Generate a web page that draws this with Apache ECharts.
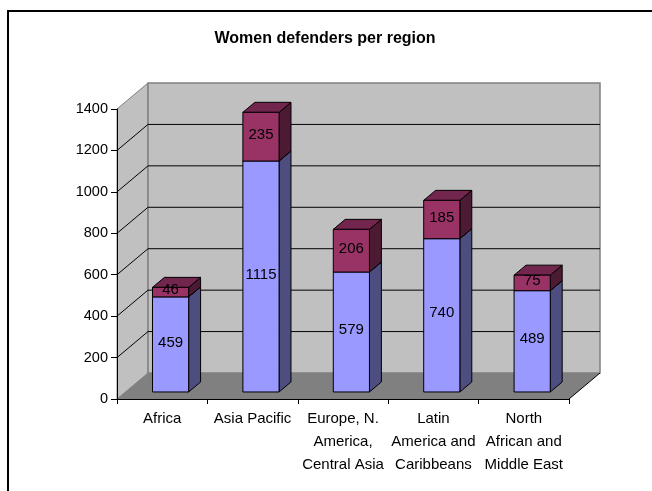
<!DOCTYPE html>
<html>
<head>
<meta charset="utf-8">
<title>Women defenders per region</title>
<script src="https://cdn.jsdelivr.net/npm/echarts@6/dist/echarts.min.js"></script>
<style>
  html, body { margin: 0; padding: 0; background: #ffffff; }
  #chart { width: 652px; height: 491px; }
</style>
</head>
<body>
<div id="chart"></div>
<script>
// Regions on the category axis
const categories = [
  'Africa',
  'Asia Pacific',
  'Europe, N.\nAmerica,\nCentral Asia',
  'Latin\nAmerica and\nCaribbeans',
  'North\nAfrican and\nMiddle East'
];

// Stacked series: lower block and the block on top of it
const lowerValues = [459, 1115, 579, 740, 489];
const upperValues = [46, 235, 206, 185, 75];

// Value axis
const yMin = 0;
const yMax = 1400;
const yStep = 200;

const FONT = 'Arial, "Liberation Sans", sans-serif';

// Pseudo-3D geometry: offset of the back wall from the front plane (px),
// bar placement inside that depth and bar width as a fraction of a band.
const DEPTH = [31, -26];
const BAR_FRONT = 0.27;
const BAR_DEPTH = 0.385;
const BAR_WIDTH = 0.4;

const palette = {
  lower: { front: '#9999ff', side: '#4d4d80', top: '#7373bf' },
  upper: { front: '#993366', side: '#4d1a33', top: '#73264d' }
};

function renderWalls(params, api) {
  const band = api.size([1, 0])[0];
  const x0 = api.coord([0, yMin])[0] - band / 2;
  const x1 = api.coord([categories.length - 1, yMin])[0] + band / 2;
  const yb = api.coord([0, yMin])[1];
  const yt = api.coord([0, yMax])[1];
  const dx = DEPTH[0], dy = DEPTH[1];
  const children = [];
  // side wall on the left
  children.push({
    type: 'polygon',
    shape: { points: [[x0, yb], [x0, yt], [x0 + dx, yt + dy], [x0 + dx, yb + dy]] },
    style: { fill: '#c0c0c0', stroke: '#808080', lineWidth: 1 }
  });
  // back wall
  children.push({
    type: 'polygon',
    shape: { points: [[x0 + dx, yt + dy], [x1 + dx, yt + dy], [x1 + dx, yb + dy], [x0 + dx, yb + dy]] },
    style: { fill: '#c0c0c0', stroke: '#808080', lineWidth: 1.5 }
  });
  // gridlines across both walls
  for (let v = yMin + yStep; v < yMax; v += yStep) {
    const y = api.coord([0, v])[1];
    children.push({
      type: 'polyline',
      shape: { points: [[x0, y], [x0 + dx, y + dy], [x1 + dx, y + dy]] },
      style: { stroke: '#000000', lineWidth: 1, fill: null }
    });
  }
  // floor
  children.push({
    type: 'polygon',
    shape: { points: [[x0, yb], [x1, yb], [x1 + dx, yb + dy], [x0 + dx, yb + dy]] },
    style: { fill: '#808080' }
  });
  children.push({
    type: 'line',
    shape: { x1: x1, y1: yb, x2: x1 + dx, y2: yb + dy },
    style: { stroke: '#000000', lineWidth: 1 }
  });
  return { type: 'group', children: children };
}

function makeBarRenderer(colors) {
  return function (params, api) {
    const i = api.value(0);
    const base = api.value(1);
    const val = api.value(2);
    const band = api.size([1, 0])[0];
    const w = band * BAR_WIDTH;
    const pb = api.coord([i, base]);
    const pt = api.coord([i, base + val]);
    const fx = pb[0] + DEPTH[0] * BAR_FRONT - w / 2;
    const fyb = pb[1] + DEPTH[1] * BAR_FRONT;
    const fyt = pt[1] + DEPTH[1] * BAR_FRONT;
    const ddx = DEPTH[0] * BAR_DEPTH;
    const ddy = DEPTH[1] * BAR_DEPTH;
    const edge = { stroke: '#000000', lineWidth: 1, lineJoin: 'round' };
    return {
      type: 'group',
      children: [
        {
          type: 'polygon',
          shape: { points: [[fx + w, fyb], [fx + w, fyt], [fx + w + ddx, fyt + ddy], [fx + w + ddx, fyb + ddy]] },
          style: Object.assign({ fill: colors.side }, edge)
        },
        {
          type: 'polygon',
          shape: { points: [[fx, fyt], [fx + w, fyt], [fx + w + ddx, fyt + ddy], [fx + ddx, fyt + ddy]] },
          style: Object.assign({ fill: colors.top }, edge)
        },
        {
          type: 'rect',
          shape: { x: fx, y: fyt, width: w, height: fyb - fyt },
          style: Object.assign({ fill: colors.front }, edge)
        },
        {
          type: 'text',
          style: {
            text: String(val),
            x: fx + w / 2,
            y: (fyt + fyb) / 2 - 2,
            align: 'center',
            verticalAlign: 'middle',
            fill: '#000000',
            font: '15px ' + FONT
          }
        }
      ]
    };
  };
}

const lowerData = lowerValues.map((v, i) => [i, 0, v]);
const upperData = upperValues.map((v, i) => [i, lowerValues[i], v]);

const chart = echarts.init(document.getElementById('chart'), null, { renderer: 'canvas' });
chart.setOption({
  animation: false,
  backgroundColor: '#ffffff',
  title: {
    text: 'Women defenders per region',
    left: 320,
    top: 26,
    textAlign: 'center',
    textStyle: { fontFamily: FONT, fontSize: 16, fontWeight: 'bold', color: '#000000' }
  },
  graphic: [{
    type: 'rect',
    shape: { x: 8, y: 11, width: 700, height: 600 },
    style: { fill: null, stroke: '#000000', lineWidth: 2 },
    silent: true
  }],
  grid: { left: 117, right: 83, top: 109, bottom: 92 },
  xAxis: {
    type: 'category',
    data: categories,
    z: 5,
    axisLine: { lineStyle: { color: '#000000', width: 1 } },
    axisTick: { show: true, length: 5, alignWithLabel: false, lineStyle: { color: '#000000' } },
    axisLabel: {
      interval: 0,
      margin: 8,
      color: '#000000',
      fontFamily: FONT,
      fontSize: 15,
      lineHeight: 23,
      align: 'center'
    },
    splitLine: { show: false }
  },
  yAxis: {
    type: 'value',
    min: yMin,
    max: yMax,
    interval: yStep,
    z: 5,
    axisLine: { show: true, lineStyle: { color: '#000000', width: 1 } },
    axisTick: { show: true, length: 6, lineStyle: { color: '#000000' } },
    axisLabel: {
      margin: 9,
      color: '#000000',
      fontFamily: FONT,
      fontSize: 14.5,
      formatter: (v) => String(v)
    },
    splitLine: { show: false }
  },
  series: [
    {
      type: 'custom',
      name: 'walls',
      clip: false,
      silent: true,
      z: 1,
      data: [[0, 0]],
      encode: { x: 0, y: 1 },
      renderItem: renderWalls
    },
    {
      type: 'custom',
      name: 'lower',
      clip: false,
      z: 3,
      data: lowerData,
      encode: { x: 0, y: [1, 2] },
      renderItem: makeBarRenderer(palette.lower)
    },
    {
      type: 'custom',
      name: 'upper',
      clip: false,
      z: 4,
      data: upperData,
      encode: { x: 0, y: [1, 2] },
      renderItem: makeBarRenderer(palette.upper)
    }
  ]
});
</script>
</body>
</html>
